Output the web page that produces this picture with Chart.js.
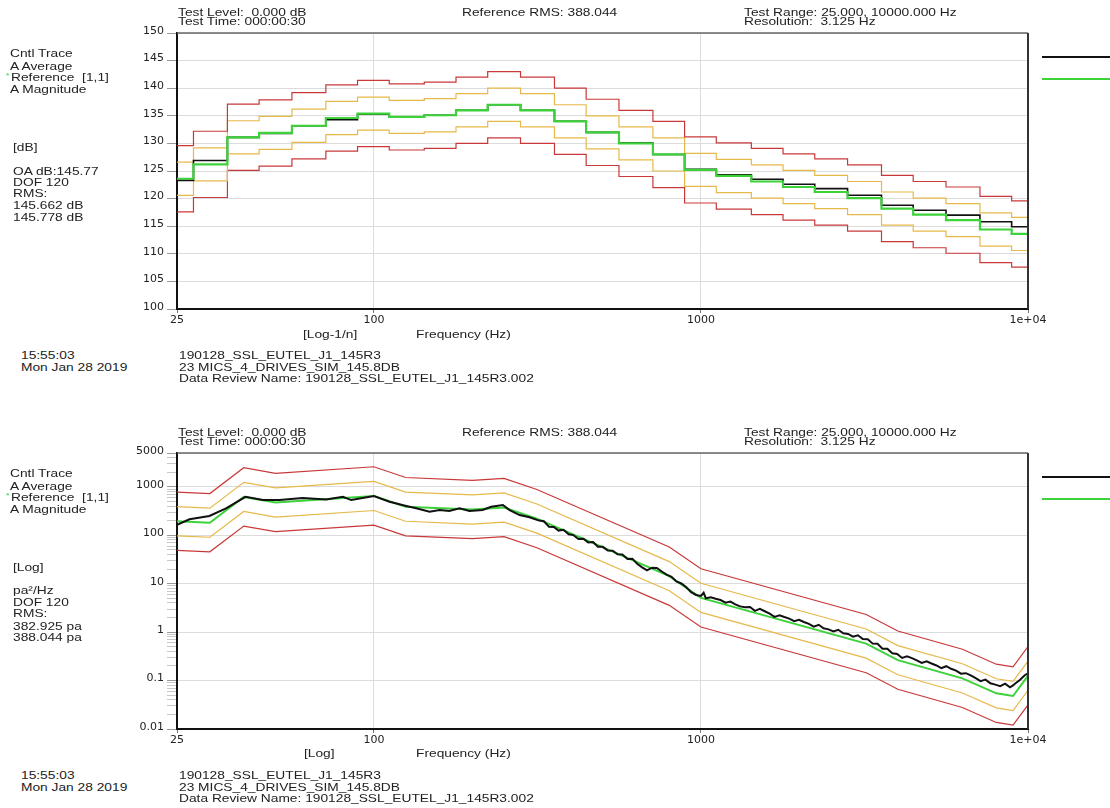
<!DOCTYPE html>
<html>
<head>
<meta charset="utf-8">
<script src="https://cdn.jsdelivr.net/npm/chart.js@4.4.1/dist/chart.umd.min.js"></script>
<style>
  body { margin: 0; background: #fff; }
  #page { position: relative; width: 1110px; height: 808px; overflow: hidden; background: #fff; }
  canvas { position: absolute; left: 0; }
  .t { position: absolute; font: 10.5px "Liberation Sans", Arial, sans-serif; color: #222; white-space: pre;
       line-height: 12px; transform: scaleX(1.31); transform-origin: 0 0; }
  .leg { position: absolute; left: 1042px; width: 68px; height: 2px; }
</style>
</head>
<body>
<div id="page">
  <canvas id="dbChart" width="1110" height="345" style="top:0"></canvas>
  <canvas id="psdChart" width="1110" height="345" style="top:420px"></canvas>
</div>
<script>
// 1/3 octave bands (top plot, dB)
const bandCenters = [25, 31.5, 40, 50, 63, 80, 100, 125, 160, 200, 250, 315, 400, 500, 630, 800,
  1000, 1250, 1600, 2000, 2500, 3150, 4000, 5000, 6300, 8000, 10000];
const refDb = [123.6, 126.2, 131.1, 131.9, 133.2, 134.6, 135.4, 134.8, 135.1, 136.0, 137.0, 136.0, 134.0, 132.0,
  130.0, 128.0, 125.2, 124.1, 123.1, 122.1, 121.2, 120.1, 118.2, 117.1, 116.1, 114.4, 113.6];
const ctrlDb = [123.3, 126.9, 131.1, 131.8, 133.2, 134.3, 135.3, 134.8, 135.1, 136.0, 137.0, 136.0, 134.0, 132.0,
  130.1, 128.0, 125.3, 124.3, 123.5, 122.6, 121.8, 120.6, 118.8, 117.9, 117.0, 115.8, 114.9];
const abortHiDb = [129.6, 132.2, 137.1, 137.9, 139.2, 140.6, 141.4, 140.8, 141.1, 142.0, 143.0, 142.0, 140.0, 138.0,
  136.0, 134.0, 131.2, 130.1, 129.1, 128.1, 127.2, 126.1, 124.2, 123.1, 122.1, 120.4, 119.6];
const alarmHiDb = [126.6, 129.2, 134.1, 134.9, 136.2, 137.6, 138.4, 137.8, 138.1, 139.0, 140.0, 139.0, 137.0, 135.0,
  133.0, 131.0, 128.2, 127.1, 126.1, 125.1, 124.2, 123.1, 121.2, 120.1, 119.1, 117.4, 116.6];
const alarmLoDb = [120.6, 123.2, 128.1, 128.9, 130.2, 131.6, 132.4, 131.8, 132.1, 133.0, 134.0, 133.0, 131.0, 129.0,
  127.0, 125.0, 122.2, 121.1, 120.1, 119.1, 118.2, 117.1, 115.2, 114.1, 113.1, 111.4, 110.6];
const abortLoDb = [117.6, 120.2, 125.1, 125.9, 127.2, 128.6, 129.4, 128.8, 129.1, 130.0, 131.0, 130.0, 128.0, 126.0,
  124.0, 122.0, 119.2, 118.1, 117.1, 116.1, 115.2, 114.1, 112.2, 111.1, 110.1, 108.4, 107.6];

// PSD profile breakpoints (bottom plot, pa^2/Hz)
const profileFreq = [25, 31.5, 40, 50, 100, 125, 200, 250, 315, 800, 1000, 3200, 4000, 6300, 8000, 9000, 10000];
const refPsd = [195, 182, 620, 475, 650, 390, 340, 375, 221, 14.3, 5.1, 0.58, 0.264, 0.111, 0.0546, 0.048, 0.126];
const abortHiPsd = [780, 728, 2480, 1900, 2600, 1560, 1360, 1500, 884, 57.2, 20.4, 2.32, 1.056, 0.444, 0.218, 0.192, 0.504];
const alarmHiPsd = [390, 364, 1240, 950, 1300, 780, 680, 750, 442, 28.6, 10.2, 1.16, 0.528, 0.222, 0.109, 0.096, 0.252];
const alarmLoPsd = [97.5, 91, 310, 237.5, 325, 195, 170, 187.5, 110.5, 7.15, 2.55, 0.29, 0.132, 0.0555, 0.0273, 0.024, 0.063];
const abortLoPsd = [48.75, 45.5, 155, 118.75, 162.5, 97.5, 85, 93.75, 55.25, 3.575, 1.275, 0.145, 0.066, 0.02775, 0.01365, 0.012, 0.0315];

// measured control trace (bottom plot)
const ctrlFreq = [25, 27.3, 31.4, 35.3, 40.5, 45.8, 51.4, 60.6, 71.5, 80.4, 85.3, 100, 111.6, 125.6, 134.7, 148, 158.8,
  170, 182.7, 196, 215, 228.4, 248, 260, 279, 299,
  320, 331, 343, 355, 367, 380, 394, 407, 422, 437, 452, 468, 484, 501, 519, 537, 556, 575, 596, 617, 638, 661, 684,
  708, 733, 759, 785, 813, 841, 871, 902, 933, 966, 1000, 1019, 1035, 1072, 1109, 1148, 1189, 1230, 1274, 1318, 1365,
  1413, 1462, 1514, 1567, 1622, 1679, 1738, 1799, 1862, 1928, 1995, 2065, 2138, 2213, 2291, 2371, 2455, 2541, 2630,
  2723, 2818, 2917, 3020, 3126, 3236, 3350, 3467, 3589, 3715, 3846, 3981, 4121, 4266, 4416, 4571, 4732, 4898, 5070,
  5248, 5433, 5623, 5821, 6026, 6237, 6457, 6683, 6918, 7161, 7413, 7674, 7943, 8222, 8511, 8810, 9000, 9120, 9441,
  9772, 10000];
const ctrlPsd = [164, 214, 250, 360, 623, 533, 533, 586, 551, 624, 533, 644, 492, 402, 360, 307, 332,
  317, 360, 317, 332, 388, 421, 332, 262, 236,
  201, 195, 150, 149, 125, 130, 105, 101, 83.6, 84.7, 71.3, 72.3, 58.2, 57.7, 48.6, 48.2, 40.6, 40.3, 32.4, 32.9, 25.8,
  21.8, 18.8, 21.4, 21.2, 17.9, 15.4, 13.9, 11.1, 10.1, 8.43, 6.71, 5.86, 5.60, 6.50, 5.01, 5.27, 4.90, 4.60, 4.06,
  4.27, 3.75, 3.40, 3.25, 3.30, 2.75, 3.02, 2.70, 2.40, 2.07, 2.23, 2.05, 1.90, 1.68, 1.80, 1.62, 1.48, 1.30, 1.42,
  1.20, 1.14, 1.03, 1.12, 0.95, 0.92, 0.809, 0.86, 0.72, 0.716, 0.579, 0.575, 0.455, 0.452, 0.366, 0.355, 0.293,
  0.316, 0.290, 0.262, 0.231, 0.250, 0.225, 0.205, 0.181, 0.198, 0.175, 0.160, 0.139, 0.142, 0.128, 0.112, 0.0975,
  0.1045, 0.088, 0.0824, 0.0766, 0.0865, 0.0724, 0.0796, 0.0863, 0.103, 0.129, 0.141];

// tick labels
const freqTicks = [25, 100, 1000, 10000];
const dbTicks = [100, 105, 110, 115, 120, 125, 130, 135, 140, 145, 150];
const psdTicks = [0.01, 0.1, 1, 10, 100, 1000, 5000];

const RED = '#c93838', YELLOW = '#e6b94a', GREEN = '#3dd13a', BLACK = '#111';
const tickFont = { family: 'DejaVu Sans', size: 11 };

// minor log ticks on the psd axis (marks only)
const psdMinor = [];
[0.01, 0.1, 1, 10, 100, 1000].forEach(d => {
  for (let m = 2; m <= 9; m++) if (m * d < 5000) psdMinor.push(m * d);
});

// step curve: each band holds its level from its lower edge to the next one
function bandSteps(values) {
  const pts = bandCenters.map((c, i) => ({ x: Math.max(25, c * Math.pow(10, -0.05)), y: values[i] }));
  pts.push({ x: 10000, y: values[values.length - 1] });
  return pts;
}
function profile(values) {
  return profileFreq.map((f, i) => ({ x: f, y: values[i] }));
}

// top and right border of the plot box
const framePlugin = {
  id: 'frame',
  afterDatasetsDraw(chart) {
    const { ctx, chartArea: a } = chart;
    ctx.save();
    ctx.lineWidth = 1.5;
    ctx.strokeStyle = '#666';
    ctx.beginPath(); ctx.moveTo(a.left, a.top); ctx.lineTo(a.right, a.top); ctx.stroke();
    ctx.lineWidth = 2;
    ctx.strokeStyle = '#333';
    ctx.beginPath(); ctx.moveTo(a.right, a.top); ctx.lineTo(a.right, a.bottom); ctx.stroke();
    ctx.restore();
  }
};

function freqAxis() {
  return {
    type: 'logarithmic', min: 25, max: 10000,
    afterBuildTicks: s => { s.ticks = freqTicks.map(v => ({ value: v })); },
    afterFit: s => { s.height = 36; },
    ticks: { autoSkip: false, maxRotation: 0, padding: 1, color: '#222', font: tickFont,
             callback: v => v === 10000 ? '1e+04' : String(v) },
    grid: { color: '#dcdcdc', tickLength: 4, tickColor: '#777' },
    border: { color: BLACK, width: 2 }
  };
}

function baseOptions(yAxis) {
  return {
    responsive: false, animation: false, devicePixelRatio: 1, events: [],
    layout: { padding: { left: 0, top: 33, right: 82, bottom: 0 } },
    elements: { point: { radius: 0 }, line: { tension: 0 } },
    plugins: { legend: { display: false }, tooltip: { enabled: false } },
    scales: { x: freqAxis(), y: yAxis }
  };
}

// Top: 1/3 octave levels in dB
new Chart(document.getElementById('dbChart'), {
  type: 'line',
  data: {
    datasets: [
      { label: 'Reference', data: bandSteps(refDb), stepped: true, borderColor: GREEN, borderWidth: 2.2 },
      { label: 'Control', data: bandSteps(ctrlDb), stepped: true, borderColor: BLACK, borderWidth: 1.6 },
      { label: 'Abort +', data: bandSteps(abortHiDb), stepped: true, borderColor: RED, borderWidth: 1.2 },
      { label: 'Alarm +', data: bandSteps(alarmHiDb), stepped: true, borderColor: YELLOW, borderWidth: 1.2 },
      { label: 'Alarm -', data: bandSteps(alarmLoDb), stepped: true, borderColor: YELLOW, borderWidth: 1.2 },
      { label: 'Abort -', data: bandSteps(abortLoDb), stepped: true, borderColor: RED, borderWidth: 1.2 }
    ]
  },
  options: baseOptions({
    type: 'linear', min: 100, max: 150,
    afterBuildTicks: s => { s.ticks = dbTicks.map(v => ({ value: v })); },
    afterFit: s => { s.width = 177; },
    ticks: { autoSkip: false, padding: 3, labelOffset: -2, color: '#222', font: tickFont },
    grid: { color: '#dcdcdc', tickLength: 10, tickColor: '#999' },
    border: { color: BLACK, width: 2 }
  }),
  plugins: [framePlugin]
});

// Bottom: PSD on log axes
new Chart(document.getElementById('psdChart'), {
  type: 'line',
  data: {
    datasets: [
      { label: 'Control', data: ctrlFreq.map((f, i) => ({ x: f, y: ctrlPsd[i] })), borderColor: BLACK, borderWidth: 2 },
      { label: 'Reference', data: profile(refPsd), borderColor: GREEN, borderWidth: 2 },
      { label: 'Abort +', data: profile(abortHiPsd), borderColor: RED, borderWidth: 1.2 },
      { label: 'Alarm +', data: profile(alarmHiPsd), borderColor: YELLOW, borderWidth: 1.2 },
      { label: 'Alarm -', data: profile(alarmLoPsd), borderColor: YELLOW, borderWidth: 1.2 },
      { label: 'Abort -', data: profile(abortLoPsd), borderColor: RED, borderWidth: 1.2 }
    ]
  },
  options: baseOptions({
    type: 'logarithmic', min: 0.01, max: 5000,
    afterBuildTicks: s => { s.ticks = psdTicks.concat(psdMinor).map(v => ({ value: v })); },
    afterFit: s => { s.width = 177; },
    ticks: { autoSkip: false, padding: 3, labelOffset: -2, color: '#222', font: tickFont,
             callback: v => psdTicks.includes(v) ? String(v) : '' },
    grid: {
      color: c => psdTicks.includes(c.tick.value) ? '#dcdcdc' : 'rgba(0,0,0,0)',
      tickColor: c => psdTicks.includes(c.tick.value) ? '#999' : '#c8c8c8',
      tickLength: 10
    },
    border: { color: BLACK, width: 2 }
  }),
  plugins: [framePlugin]
});

// page texts: [text, left, center y]
const texts = [
  ['Test Level:  0.000 dB', 178, 11.7], ['Test Time: 000:00:30', 178, 20.7],
  ['Reference RMS: 388.044', 462, 11.7],
  ['Test Range: 25.000, 10000.000 Hz', 744, 11.7], ['Resolution:  3.125 Hz', 744, 20.7],
  ['Cntl Trace', 10, 53.3], ['A Average', 10, 65.7], ['Reference  [1,1]', 10.7, 77.3], ['A Magnitude', 10, 89.3],
  ['[dB]', 12.7, 147.3], ['OA dB:145.77', 12.7, 170.7], ['DOF 120', 12.7, 181.7], ['RMS:', 12.7, 193.3],
  ['145.662 dB', 12.7, 205.3], ['145.778 dB', 12.7, 216.7],
  ['[Log-1/n]', 303, 334.3], ['Frequency (Hz)', 416, 334.3],
  ['15:55:03', 20.7, 355], ['Mon Jan 28 2019', 20.7, 366.7],
  ['190128_SSL_EUTEL_J1_145R3', 179, 355], ['23 MICS_4_DRIVES_SIM_145.8DB', 179, 366.7],
  ['Data Review Name: 190128_SSL_EUTEL_J1_145R3.002', 179, 378.3],

  ['Test Level:  0.000 dB', 178, 431.7], ['Test Time: 000:00:30', 178, 440.7],
  ['Reference RMS: 388.044', 462, 431.7],
  ['Test Range: 25.000, 10000.000 Hz', 744, 431.7], ['Resolution:  3.125 Hz', 744, 440.7],
  ['Cntl Trace', 10, 473.3], ['A Average', 10, 485.7], ['Reference  [1,1]', 10.7, 497.3], ['A Magnitude', 10, 509.3],
  ['[Log]', 12.7, 567.3], ['pa²/Hz', 12.7, 590], ['DOF 120', 12.7, 601.7], ['RMS:', 12.7, 613.3],
  ['382.925 pa', 12.7, 625.7], ['388.044 pa', 12.7, 637.3],
  ['[Log]', 304, 753.3], ['Frequency (Hz)', 416, 753.3],
  ['15:55:03', 20.7, 775], ['Mon Jan 28 2019', 20.7, 786.7],
  ['190128_SSL_EUTEL_J1_145R3', 179, 775], ['23 MICS_4_DRIVES_SIM_145.8DB', 179, 786.7],
  ['Data Review Name: 190128_SSL_EUTEL_J1_145R3.002', 179, 798.3]
];
const page = document.getElementById('page');
texts.forEach(([s, x, y]) => {
  const d = document.createElement('div');
  d.className = 't';
  d.textContent = s;
  d.style.left = x + 'px';
  d.style.top = (y - 6) + 'px';
  page.appendChild(d);
});
// small green mark in front of "Reference" and the two legend swatches
[77.3, 497.3].forEach(y => {
  const m = document.createElement('div');
  m.className = 't';
  m.textContent = '*';
  m.style.cssText = 'left:6px;top:' + (y - 7) + 'px;color:' + GREEN + ';font-size:7px;';
  page.appendChild(m);
});
[[56.7, BLACK], [79, GREEN], [476.7, BLACK], [499, GREEN]].forEach(([y, c]) => {
  const l = document.createElement('div');
  l.className = 'leg';
  l.style.top = (y - 1) + 'px';
  l.style.background = c;
  page.appendChild(l);
});
</script>
</body>
</html>
